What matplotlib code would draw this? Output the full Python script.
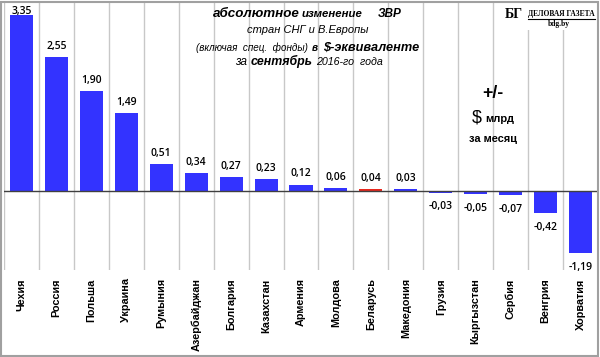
import numpy as np
import matplotlib.pyplot as plt
from matplotlib.patches import Rectangle
from matplotlib.lines import Line2D

# data: absolute change of reserves, $ bn, Sept 2016
countries = ['Чехия', 'Россия', 'Польша', 'Украина', 'Румыния', 'Азербайджан',
             'Болгария', 'Казахстан', 'Армения', 'Молдова', 'Беларусь',
             'Македония', 'Грузия', 'Кыргызстан', 'Сербия', 'Венгрия', 'Хорватия']
values = [3.35, 2.55, 1.90, 1.49, 0.51, 0.34, 0.27, 0.23, 0.12, 0.06, 0.04,
          0.03, -0.03, -0.05, -0.07, -0.42, -1.19]
highlight = 'Беларусь'

W, H = 600, 357
title_font = ['Liberation Sans Narrow', 'Liberation Sans', 'DejaVu Sans']
label_font = ['Open Sans', 'DejaVu Sans']
serif_font = ['Liberation Serif', 'DejaVu Serif']


def fx(xp):
    return xp / W


def fy(yp):
    # pixels measured from the top of the picture
    return 1. - yp / H


fig = plt.figure(figsize=(W / 100., H / 100.), dpi=100)
renderer = fig.canvas.get_renderer()
#                  [left, bottom, width, height]
ax = fig.add_axes([fx(4), fy(270), 594. / W, 268. / H])

n = len(countries)
x = np.arange(n)
colors = ['#e8281e' if c == highlight else '#3333ff' for c in countries]
ax.bar(x, values, width=0.66, color=colors, zorder=3)
ax.axhline(0, color='#404040', lw=1, zorder=4)

ax.set_xlim(-0.5, n - 0.5)
ax.set_ylim(-1.508, 3.607)
ax.set_yticks([])
ax.set_xticks(x)
ax.set_xticklabels(countries, rotation=90, fontsize=7.8, fontweight='bold',
                   family=['Liberation Sans', 'DejaVu Sans'])
ax.tick_params(axis='x', length=0, pad=6)
ax.set_xticks(np.arange(-0.5, n, 1), minor=True)
ax.tick_params(axis='x', which='minor', length=0)
ax.grid(which='minor', axis='x', color='#c8c8c8', lw=1, zorder=0)
for sp in ax.spines.values():
    sp.set_visible(False)

# value labels
for xi, v in zip(x, values):
    lab = ('%.2f' % v).replace('.', ',')
    if v >= 0:
        ax.text(xi, min(v + 0.1, 3.32), lab, ha='center', va='bottom',
                fontsize=7.5, fontweight='semibold', family=label_font, zorder=5)
    else:
        ax.text(xi, v - 0.17, lab, ha='center', va='top',
                fontsize=7.5, fontweight='semibold', family=label_font, zorder=5)


def fit_text(s, x0, x1, y0, weight='normal', style='italic', family=None, size=9):
    # put a text from x0 to x1 (pixels), baseline at y0, size chosen to fill the width
    t = fig.text(fx(x0), fy(y0), s, fontsize=size, fontweight=weight, fontstyle=style,
                 family=family or title_font, ha='left', va='baseline', zorder=10)
    w = t.get_window_extent(renderer).width
    t.set_fontsize(size * (x1 - x0) / w)
    return t


# title
fit_text('абсолютное', 213, 300, 16.7, 'bold')
fit_text('изменение', 302, 363, 16.7, 'bold')
fit_text('ЗВР', 378, 402, 16.7, 'bold')
fit_text('стран СНГ и В.Европы', 247, 368, 33)
fit_text('(включая  спец.  фонды)', 196, 308, 51)
fit_text('в', 312, 318, 51, 'bold')
fit_text('$-эквиваленте', 323, 419, 51, 'bold')
fit_text('за', 235, 247, 65)
fit_text('сентябрь', 251, 313, 65, 'bold')
fit_text('2016-го  года', 316, 383, 65)

# units note
fit_text('+/-', 482, 503, 98, 'bold', 'normal')
fit_text('$', 472, 482, 122, 'normal', 'normal')
fit_text('млрд', 485, 514, 122, 'bold', 'normal')
fit_text('за месяц', 469, 517, 142, 'bold', 'normal')

# logo box
fig.add_artist(Rectangle((fx(500), fy(30)), 97. / W, 28. / H, transform=fig.transFigure,
                         facecolor='white', edgecolor='none', zorder=8))
fit_text('БГ', 505, 523, 18, 'bold', 'normal', serif_font)
fit_text('ДЕЛОВАЯ ГАЗЕТА', 528, 595, 16, 'bold', 'normal', serif_font)
fig.add_artist(Line2D([fx(528), fx(595)], [fy(18.5), fy(18.5)], transform=fig.transFigure,
                      color='black', lw=0.8, zorder=10))
fit_text('bdg.by', 548, 570, 26.5, 'bold', 'normal', serif_font)

# border round the picture
fig.add_artist(Rectangle((0.002, 0.003), 0.995, 0.992, transform=fig.transFigure,
                         fill=False, edgecolor='#a0a0a0', lw=1.5, zorder=11))

fig.savefig('out.png', dpi=100)
